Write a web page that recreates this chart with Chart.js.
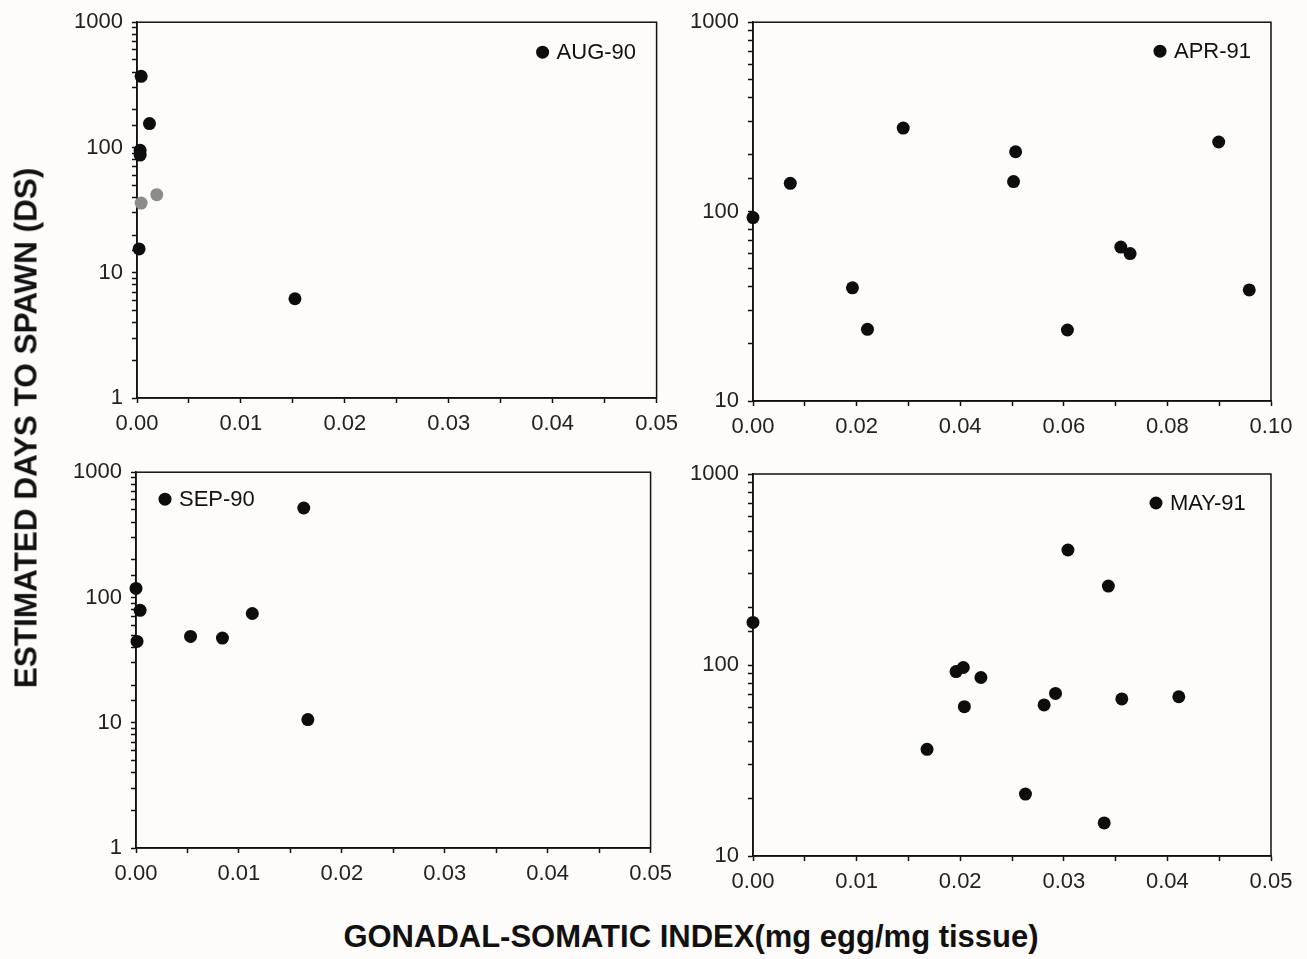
<!DOCTYPE html>
<html>
<head>
<meta charset="utf-8">
<script src="https://cdn.jsdelivr.net/npm/chart.js@4"></script>
<style>
  body { margin: 0; background: #fdfcfa; width: 1307px; height: 959px; position: relative; overflow: hidden; font-family: "Liberation Sans", Arial, sans-serif; }
  canvas { position: absolute; }
  .titolo { position: absolute; font-weight: bold; font-size: 31px; color: #111; white-space: nowrap; }
  #titoloY { left: 26px; top: 428px; transform: translate(-50%, -50%) rotate(-90deg); font-size: 31.5px; }
  #titoloX { left: 691px; top: 937px; transform: translate(-50%, -50%); }
</style>
</head>
<body>
<canvas id="graficoAug" width="686" height="440" style="left:0;top:0"></canvas>
<canvas id="graficoApr" width="627" height="440" style="left:680px;top:0"></canvas>
<canvas id="graficoSep" width="680" height="450" style="left:0;top:450px"></canvas>
<canvas id="graficoMay" width="627" height="450" style="left:680px;top:450px"></canvas>
<div class="titolo" id="titoloY">ESTIMATED DAYS TO SPAWN (DS)</div>
<div class="titolo" id="titoloX">GONADAL-SOMATIC INDEX(mg egg/mg tissue)</div>
<script>
// dati (GSI, giorni stimati alla deposizione)
const augGsi = [0.0004, 0.0012, 0.0003, 0.0003, 0.0002, 0.0152];
const augGiorni = [370, 155, 95, 87, 15.5, 6.2];
// due punti sbiaditi nel riferimento
const augGsiChiari = [0.0004, 0.0019];
const augGiorniChiari = [36, 42];

const aprGsi = [0, 0.0072, 0.0192, 0.0221, 0.029, 0.0507, 0.0503, 0.0607, 0.071, 0.0728, 0.0899, 0.0958];
const aprGiorni = [93, 141, 39.6, 23.9, 276, 207, 144, 23.7, 65, 60, 233, 38.6];

const sepGsi = [0, 0.0004, 0.0001, 0.0053, 0.0084, 0.0113, 0.0163, 0.0167];
const sepGiorni = [118, 79, 44.6, 48.9, 47.4, 74.5, 518, 10.6];

const mayGsi = [0, 0.0196, 0.0203, 0.022, 0.0204, 0.0168, 0.0304, 0.0343, 0.0292, 0.0281, 0.0356, 0.0411, 0.0263, 0.0339];
const mayGiorni = [167, 92.4, 97, 86, 60.5, 36.2, 400, 259, 71, 61.8, 66.4, 68.2, 21.1, 14.9];

const etichette = ['AUG-90', 'APR-91', 'SEP-90', 'MAY-91'];

function punti(xs, ys) {
    return xs.map((x, i) => ({ x: x, y: ys[i] }));
}

// cornice completa attorno all'area del grafico
const cornice = {
    id: 'cornice',
    beforeDatasetsDraw(chart) {
        const a = chart.chartArea;
        const ctx = chart.ctx;
        ctx.save();
        ctx.strokeStyle = '#111';
        ctx.lineWidth = 1.5;
        ctx.strokeRect(a.left, a.top, a.right - a.left, a.bottom - a.top);
        ctx.restore();
    }
};

// etichetta della serie dentro l'area (pallino + mese)
const etichettaSerie = {
    id: 'etichettaSerie',
    afterDatasetsDraw(chart, args, opz) {
        const a = chart.chartArea;
        const ds = chart.data.datasets[0];
        const ctx = chart.ctx;
        const cx = opz.lato === 'destra' ? a.right - opz.dx : a.left + opz.dx;
        const cy = a.top + opz.dy;
        ctx.save();
        ctx.fillStyle = ds.backgroundColor;
        ctx.beginPath();
        ctx.arc(cx, cy, 6.5, 0, Math.PI * 2);
        ctx.fill();
        ctx.fillStyle = '#111';
        ctx.font = '22px "Liberation Sans"';
        ctx.textBaseline = 'middle';
        ctx.textAlign = 'left';
        ctx.fillText(ds.label, cx + 14, cy + 1);
        ctx.restore();
    }
};

function creaGrafico(id, serie, opz) {
    const ctx = document.getElementById(id).getContext('2d');
    return new Chart(ctx, {
        type: 'scatter',
        data: { datasets: serie },
        options: {
            responsive: false,
            animation: false,
            layout: { padding: { top: opz.padTop, right: opz.padRight, left: 0, bottom: 0 } },
            plugins: {
                tooltip: { enabled: false },
                legend: { display: false },
                etichettaSerie: { lato: opz.lato, dx: opz.dx, dy: opz.dy }
            },
            scales: {
                x: {
                    type: 'linear',
                    min: 0,
                    max: opz.xMax,
                    afterFit: s => { s.height = opz.altezzaX; },
                    border: { display: true, color: '#111', width: 1.5 },
                    grid: { drawOnChartArea: false, drawTicks: true, tickLength: 5, color: '#111', tickWidth: 1.5 },
                    ticks: {
                        stepSize: opz.xPasso,
                        autoSkip: false,
                        maxRotation: 0,
                        padding: 8,
                        color: '#222',
                        font: { family: 'Liberation Sans', size: 22 },
                        callback: v => {
                            const r = v / opz.xEtichetta;
                            return Math.abs(r - Math.round(r)) < 1e-6 ? v.toFixed(2) : '';
                        }
                    }
                },
                y: {
                    type: 'logarithmic',
                    min: opz.yMin,
                    max: 1000,
                    afterFit: s => { s.width = opz.larghezzaY; },
                    border: { display: true, color: '#111', width: 1.5 },
                    grid: { drawOnChartArea: false, drawTicks: true, tickLength: 5, color: '#111', tickWidth: 1.5 },
                    ticks: {
                        autoSkip: false,
                        padding: 9,
                        color: '#222',
                        font: { family: 'Liberation Sans', size: 22 },
                        callback: v => {
                            const l = Math.log10(v);
                            return Math.abs(l - Math.round(l)) < 1e-6 ? String(Math.round(v)) : '';
                        }
                    }
                }
            }
        },
        plugins: [cornice, etichettaSerie]
    });
}

function serieNera(label, xs, ys) {
    return {
        label: label,
        data: punti(xs, ys),
        backgroundColor: '#0d0d0d',
        borderColor: '#0d0d0d',
        pointStyle: 'circle',
        pointRadius: 6.5,
        borderWidth: 0,
        clip: false
    };
}

const serieAugChiari = serieNera('', augGsiChiari, augGiorniChiari);
serieAugChiari.backgroundColor = '#8c8c8c';
serieAugChiari.borderColor = '#8c8c8c';

creaGrafico('graficoAug', [serieNera(etichette[0], augGsi, augGiorni), serieAugChiari], {
    xMax: 0.05, xPasso: 0.005, xEtichetta: 0.01, yMin: 1,
    lato: 'destra', dx: 114, dy: 30,
    padTop: 15, padRight: 18, larghezzaY: 137, altezzaX: 42
});
creaGrafico('graficoApr', [serieNera(etichette[1], aprGsi, aprGiorni)], {
    xMax: 0.10, xPasso: 0.01, xEtichetta: 0.02, yMin: 10,
    lato: 'destra', dx: 111, dy: 29,
    padTop: 19, padRight: 36, larghezzaY: 73, altezzaX: 39
});
creaGrafico('graficoSep', [serieNera(etichette[2], sepGsi, sepGiorni)], {
    xMax: 0.05, xPasso: 0.005, xEtichetta: 0.01, yMin: 1,
    lato: 'sinistra', dx: 29, dy: 27,
    padTop: 20, padRight: 29, larghezzaY: 136, altezzaX: 52
});
creaGrafico('graficoMay', [serieNera(etichette[3], mayGsi, mayGiorni)], {
    xMax: 0.05, xPasso: 0.005, xEtichetta: 0.01, yMin: 10,
    lato: 'destra', dx: 115, dy: 29,
    padTop: 24, padRight: 36, larghezzaY: 73, altezzaX: 44
});
</script>
</body>
</html>
